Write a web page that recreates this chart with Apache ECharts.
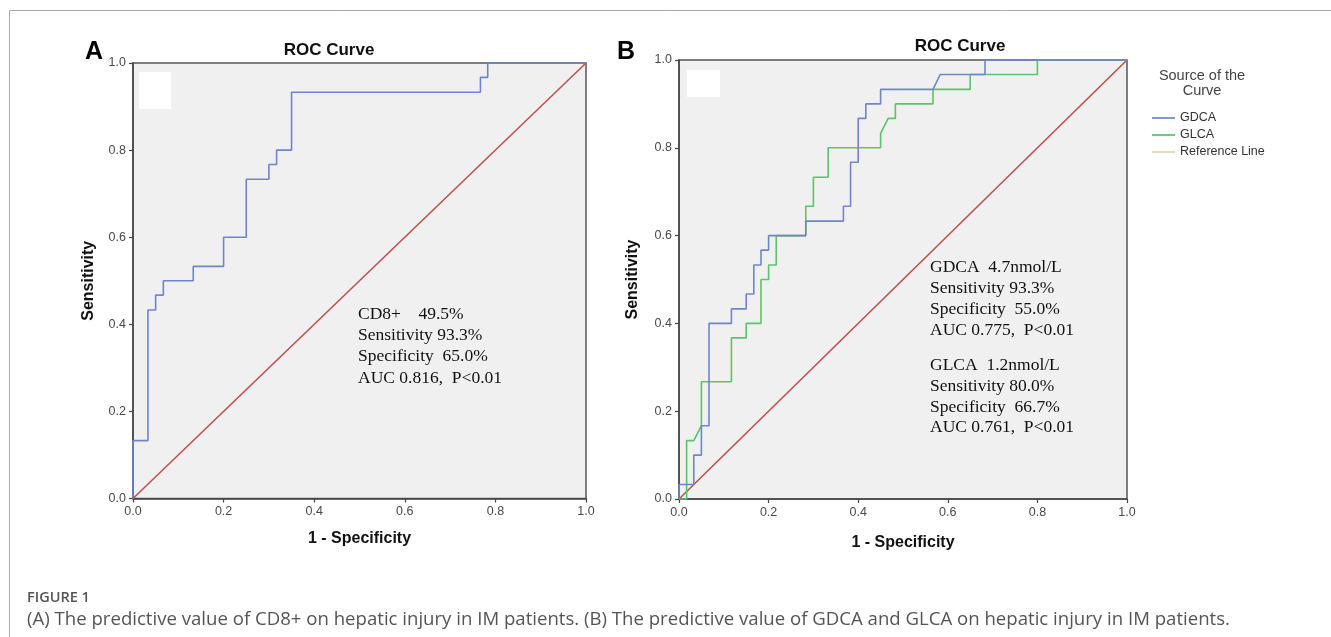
<!DOCTYPE html>
<html>
<head>
<meta charset="utf-8">
<script src="https://cdn.jsdelivr.net/npm/echarts@6/dist/echarts.min.js"></script>
<style>
html,body{margin:0;padding:0;background:#fff;}
#chart{width:1331px;height:637px;}
</style>
</head>
<body>
<div id="chart"></div>
<script>
// ---- data ----
const tickValues = [0, 0.2, 0.4, 0.6, 0.8, 1.0];
const tickLabels = ['0.0', '0.2', '0.4', '0.6', '0.8', '1.0'];

// Panel A: CD8+
const cd8X = [0, 0, 0.033, 0.033, 0.05, 0.05, 0.067, 0.067, 0.133, 0.133, 0.2, 0.2, 0.25, 0.25, 0.3, 0.3, 0.317, 0.317, 0.35, 0.35, 0.767, 0.767, 0.783, 0.783, 1];
const cd8Y = [0, 0.133, 0.133, 0.433, 0.433, 0.467, 0.467, 0.5, 0.5, 0.533, 0.533, 0.6, 0.6, 0.733, 0.733, 0.767, 0.767, 0.8, 0.8, 0.933, 0.933, 0.967, 0.967, 1, 1];

// Panel B: GDCA
const gdcaX = [0, 0, 0.033, 0.033, 0.05, 0.05, 0.067, 0.067, 0.117, 0.117, 0.15, 0.15, 0.167, 0.167, 0.183, 0.183, 0.2, 0.2, 0.283, 0.283, 0.367, 0.367, 0.383, 0.383, 0.4, 0.4, 0.417, 0.417, 0.45, 0.45, 0.567, 0.583, 0.683, 0.683, 1];
const gdcaY = [0, 0.033, 0.033, 0.1, 0.1, 0.167, 0.167, 0.4, 0.4, 0.433, 0.433, 0.467, 0.467, 0.533, 0.533, 0.567, 0.567, 0.6, 0.6, 0.633, 0.633, 0.667, 0.667, 0.767, 0.767, 0.867, 0.867, 0.9, 0.9, 0.933, 0.933, 0.967, 0.967, 1, 1];

// Panel B: GLCA
const glcaX = [0, 0.017, 0.017, 0.033, 0.05, 0.05, 0.117, 0.117, 0.15, 0.15, 0.183, 0.183, 0.2, 0.2, 0.217, 0.217, 0.283, 0.283, 0.3, 0.3, 0.333, 0.333, 0.45, 0.45, 0.467, 0.483, 0.483, 0.567, 0.567, 0.65, 0.65, 0.8, 0.8, 1];
const glcaY = [0, 0, 0.133, 0.133, 0.167, 0.267, 0.267, 0.367, 0.367, 0.4, 0.4, 0.5, 0.5, 0.533, 0.533, 0.6, 0.6, 0.667, 0.667, 0.733, 0.733, 0.8, 0.8, 0.833, 0.867, 0.867, 0.9, 0.9, 0.933, 0.933, 0.967, 0.967, 1, 1];

// Reference diagonal
const refX = [0, 1];
const refY = [0, 1];

const annoA = ['CD8+    49.5%', 'Sensitivity 93.3%', 'Specificity  65.0%', 'AUC 0.816,  P<0.01'];
const annoB1 = ['GDCA  4.7nmol/L', 'Sensitivity 93.3%', 'Specificity  55.0%', 'AUC 0.775,  P<0.01'];
const annoB2 = ['GLCA  1.2nmol/L', 'Sensitivity 80.0%', 'Specificity  66.7%', 'AUC 0.761,  P<0.01'];
const captionLabel = 'FIGURE 1';
const captionText = '(A) The predictive value of CD8+ on hepatic injury in IM patients. (B) The predictive value of GDCA and GLCA on hepatic injury in IM patients.';

// ---- build ----
const zip = (xs, ys) => xs.map((x, i) => [x, ys[i]]);
const SANS = '"Liberation Sans", Arial, Helvetica, sans-serif';
const SERIF = '"Liberation Serif", "Times New Roman", serif';

function fmt(v) { return tickLabels[tickValues.findIndex(t => Math.abs(t - v) < 1e-6)]; }
function xAx(gi, gap) {
  return {
    gridIndex: gi, type: 'value', min: 0, max: 1, interval: 0.2,
    name: '1 - Specificity', nameLocation: 'middle', nameGap: gap,
    nameTextStyle: { fontFamily: SANS, fontWeight: 'bold', fontSize: 16, color: '#111' },
    axisLine: { show: true, onZero: false, lineStyle: { color: '#444', width: 1.5 } },
    axisTick: { show: true, length: 4, lineStyle: { color: '#444', width: 1.2 } },
    axisLabel: { fontFamily: SANS, fontSize: 12.5, color: '#4a4a4a', margin: 7, formatter: fmt },
    splitLine: { show: false }
  };
}
function yAx(gi, gap) {
  return {
    gridIndex: gi, type: 'value', min: 0, max: 1, interval: 0.2,
    name: 'Sensitivity', nameLocation: 'middle', nameGap: gap,
    nameTextStyle: { fontFamily: SANS, fontWeight: 'bold', fontSize: 16, color: '#111' },
    axisLine: { show: true, onZero: false, lineStyle: { color: '#444', width: 1.5 } },
    axisTick: { show: true, length: 4, lineStyle: { color: '#444', width: 1.2 } },
    axisLabel: { fontFamily: SANS, fontSize: 12.5, color: '#4a4a4a', margin: 7, formatter: fmt },
    splitLine: { show: false }
  };
}
function lineSeries(name, xi, data, color, z) {
  return {
    name: name, type: 'line', xAxisIndex: xi, yAxisIndex: xi, data: data,
    showSymbol: false, symbol: 'none', lineStyle: { color: color, width: 1.6 },
    itemStyle: { color: color }, z: z, animation: false, clip: false
  };
}
function textBlock(lines, x, y0, lh) {
  return lines.map((s, i) => ({
    type: 'text', x: x, y: y0 + i * lh,
    style: { text: s, font: '17.5px ' + SERIF, fill: '#111', verticalAlign: 'middle' }
  }));
}

const graphics = [
  // outer figure frame
  { type: 'line', shape: { x1: 9.5, y1: 10.5, x2: 1331, y2: 10.5 }, style: { stroke: '#aaa', lineWidth: 1 } },
  { type: 'line', shape: { x1: 9.5, y1: 10.5, x2: 9.5, y2: 637 }, style: { stroke: '#aaa', lineWidth: 1 } },
  // panel letters
  { type: 'text', left: 85, top: 40, style: { text: 'A', font: 'bold 25px ' + SANS, fill: '#000' } },
  { type: 'text', left: 617, top: 40, style: { text: 'B', font: 'bold 25px ' + SANS, fill: '#000' } },
  // plot titles
  { type: 'text', x: 329, y: 50, style: { text: 'ROC Curve', font: 'bold 17px ' + SANS, fill: '#111', align: 'center', verticalAlign: 'middle' } },
  { type: 'text', x: 960, y: 46, style: { text: 'ROC Curve', font: 'bold 17px ' + SANS, fill: '#111', align: 'center', verticalAlign: 'middle' } },
  // white placeholder boxes in the plots
  { type: 'rect', shape: { x: 139, y: 72, width: 32, height: 37 }, style: { fill: '#fff' }, z: 5 },
  { type: 'rect', shape: { x: 687, y: 70, width: 33, height: 27 }, style: { fill: '#fff' }, z: 5 },
  // legend title
  { type: 'text', x: 1202, y: 76, style: { text: 'Source of the', font: '14.5px ' + SANS, fill: '#444', align: 'center', verticalAlign: 'middle' } },
  { type: 'text', x: 1202, y: 90.5, style: { text: 'Curve', font: '14.5px ' + SANS, fill: '#444', align: 'center', verticalAlign: 'middle' } },
  // caption
  { type: 'text', x: 27, y: 598, style: { text: captionLabel, font: '600 14.5px "Open Sans", sans-serif', fill: '#555', verticalAlign: 'middle' } },
  { type: 'text', x: 27, y: 620, style: { text: captionText, font: '18.6px "Open Sans", sans-serif', fill: '#555', verticalAlign: 'middle' } }
].concat(textBlock(annoA, 358, 314, 21.4))
 .concat(textBlock(annoB1, 930, 267, 21))
 .concat(textBlock(annoB2, 930, 365.5, 20.8));

const option = {
  backgroundColor: '#fff',
  animation: false,
  grid: [
    { left: 133, top: 63, width: 453, height: 435.5, show: true, backgroundColor: '#f0f0f0', borderColor: '#555', borderWidth: 1.5 },
    { left: 679, top: 60, width: 448, height: 439, show: true, backgroundColor: '#f0f0f0', borderColor: '#555', borderWidth: 1.5 }
  ],
  xAxis: [xAx(0, 32), xAx(1, 36)],
  yAxis: [yAx(0, 36), yAx(1, 38)],
  legend: {
    show: true, orient: 'vertical', left: 1147, top: 106, itemWidth: 23, itemHeight: 2, itemGap: 3,
    icon: 'rect',
    textStyle: { fontFamily: SANS, fontSize: 12.5, color: '#333', lineHeight: 14 },
    data: [
      { name: 'GDCA', itemStyle: { color: '#8497d0' } },
      { name: 'GLCA', itemStyle: { color: '#6ccb78' } },
      { name: 'Reference Line', itemStyle: { color: '#e6dcb8' } }
    ],
    selectedMode: false
  },
  series: [
    lineSeries('Reference A', 0, zip(refX, refY), '#c0504d', 2),
    lineSeries('CD8+', 0, zip(cd8X, cd8Y), '#7085c9', 3),
    lineSeries('Reference Line', 1, zip(refX, refY), '#c0504d', 2),
    lineSeries('GLCA', 1, zip(glcaX, glcaY), '#5cc468', 3),
    lineSeries('GDCA', 1, zip(gdcaX, gdcaY), '#7085c9', 4)
  ],
  graphic: graphics
};

const chart = echarts.init(document.getElementById('chart'), null, { renderer: 'canvas' });
chart.setOption(option);
</script>
</body>
</html>
